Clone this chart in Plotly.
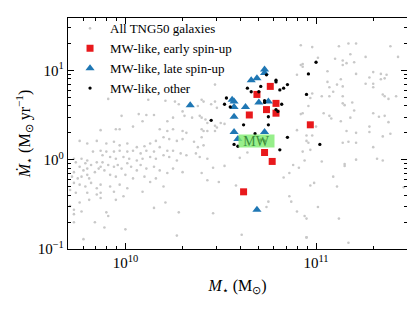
import numpy as np
import plotly.graph_objects as go

# ---------------- data (log10 stellar mass [Msun], log10 SFR [Msun/yr]) ----------------
gray_points = [
    (10.98, 1.26), (11.12, 1.27), (11.17, 1.30), (11.21, 1.30), (11.39, 1.27), (11.43, 1.15),
    (11.18, 1.18), (11.10, 1.13), (11.14, 1.11), (11.16, 1.08), (11.20, 1.09), (11.14, 1.06),
    (11.26, 1.15), (10.93, 1.07), (10.93, 1.04), (11.01, 1.14), (11.06, 0.99), (11.30, 0.98),
    (11.34, 0.96), (11.37, 0.95), (11.21, 0.96), (11.13, 0.90), (11.28, 0.92), (11.34, 0.90),
    (11.36, 0.91), (11.26, 0.85), (11.30, 0.85), (11.30, 0.81), (11.06, 0.87), (11.07, 0.81),
    (11.11, 0.84), (11.14, 0.82), (11.09, 0.76), (11.07, 0.71), (10.98, 0.74), (10.97, 0.69),
    (11.03, 0.71), (11.14, 0.71), (11.35, 0.73), (11.36, 0.71), (11.38, 0.68), (11.42, 0.71),
    (11.14, 0.63), (11.15, 0.61), (11.19, 0.64), (10.96, 0.60), (10.93, 0.52), (11.04, 0.52),
    (11.07, 0.49), (11.08, 0.46), (11.13, 0.43), (11.18, 0.47), (11.20, 0.55), (11.30, 0.52),
    (11.33, 0.48), (11.36, 0.49), (11.38, 0.42), (11.28, 0.37), (11.28, 0.31), (11.16, 0.32),
    (11.21, 0.30), (11.00, 0.37), (10.95, 0.27), (10.98, 0.27), (10.95, 0.21), (11.14, 0.19),
    (11.17, 0.20), (11.21, 0.19), (11.35, 0.26), (11.39, 0.29), (11.30, 0.14), (10.97, 0.11),
    (10.94, -0.01), (11.03, -0.02), (11.15, -0.05), (11.15, -0.07), (11.21, 0.00), (11.32, 0.01),
    (11.35, -0.01), (11.09, -0.19), (10.99, -0.26), (10.97, -0.29), (11.11, -0.30), (11.46, -0.31),
    (11.01, -0.53), (10.95, -0.66), (11.12, -0.66), (10.95, -0.87), (11.17, -0.93),
    (10.41, 0.65), (10.45, 0.62), (10.47, 0.65), (10.48, 0.58), (10.40, 0.47), (10.42, 0.45),
    (10.43, 0.41), (10.47, 0.38), (10.48, 0.36), (10.47, 0.32), (10.50, 0.41), (10.52, 0.40),
    (10.41, 0.32), (10.43, 0.32), (10.40, 0.25), (10.41, 0.16), (10.43, 0.01), (10.52, -0.07),
    (10.46, -0.09), (10.40, -0.15), (10.60, 0.02), (10.64, 0.08), (10.43, -0.23), (10.49, -0.25),
    (10.58, -0.29), (10.83, -0.20), (10.88, -0.06), (10.91, -0.09), (10.86, -0.15), (10.93, 0.09),
    (10.96, 0.19), (10.90, 0.33), (10.92, 0.51), (10.86, -0.41), (10.87, -0.47), (10.75, -0.47),
    (10.74, -0.53), (10.90, -0.58), (10.94, -0.63), (10.46, -0.60), (10.61, -0.84), (10.95, -0.87),
    (9.91, 0.68), (10.12, 0.67), (10.26, 0.65), (10.28, 0.62), (10.07, 0.51), (10.11, 0.50),
    (10.15, 0.50), (9.98, 0.49), (10.30, 0.54), (10.31, 0.49), (10.35, 0.47), (10.39, 0.49),
    (10.25, 0.47), (10.22, 0.43), (10.09, 0.43), (10.04, 0.37), (9.95, 0.34), (9.97, 0.34),
    (9.87, 0.33), (10.18, 0.34), (10.22, 0.32), (10.25, 0.34), (10.30, 0.32), (10.32, 0.30),
    (10.40, 0.34), (9.76, 0.21), (9.80, 0.18), (9.85, 0.21), (9.90, 0.18), (9.94, 0.20),
    (9.97, 0.16), (10.01, 0.18), (10.06, 0.14), (10.10, 0.15), (10.13, 0.18), (10.16, 0.21),
    (10.20, 0.25), (10.23, 0.23), (10.27, 0.21), (10.30, 0.23), (10.36, 0.20), (10.38, 0.14),
    (10.18, 0.14), (10.22, 0.10), (10.25, 0.10), (10.29, 0.07), (10.15, 0.09), (10.11, 0.10),
    (10.08, 0.07), (10.04, 0.10), (10.01, 0.09), (9.97, 0.10), (9.94, 0.09), (9.90, 0.09),
    (9.87, 0.10), (9.83, 0.09), (9.88, 0.05), (9.92, 0.03), (9.95, 0.01), (9.99, 0.03),
    (10.02, 0.01), (10.06, -0.01), (10.09, 0.01), (10.13, 0.03), (10.16, 0.01), (10.20, 0.05),
    (10.23, 0.03), (10.27, -0.01), (10.32, 0.05), (10.37, 0.07), (10.39, 0.03),
    (9.73, 0.01), (9.74, -0.03), (9.77, 0.01), (9.79, -0.04), (9.80, -0.01), (9.82, -0.06),
    (9.76, -0.08), (9.78, -0.12), (9.80, -0.10), (9.73, -0.14), (9.72, -0.19), (9.75, -0.21),
    (9.77, -0.19), (9.80, -0.17), (9.81, -0.21), (9.84, -0.14), (9.86, -0.10), (9.87, -0.08),
    (9.89, -0.12), (9.91, -0.06), (9.85, -0.03), (9.88, -0.03), (9.94, -0.08), (9.96, -0.06),
    (9.98, -0.10), (10.01, -0.04), (10.03, -0.08), (10.06, -0.12), (10.08, -0.06), (10.11, -0.10),
    (10.15, -0.08), (10.18, -0.12), (10.22, -0.15), (10.25, -0.10), (10.30, -0.14), (9.92, -0.17),
    (9.95, -0.19), (10.00, -0.17), (10.04, -0.21), (10.10, -0.19), (10.16, -0.21), (9.73, -0.26),
    (9.76, -0.28), (9.79, -0.30), (9.82, -0.26), (9.85, -0.32), (9.87, -0.28), (9.92, -0.30),
    (9.97, -0.28), (10.01, -0.32), (10.13, -0.25), (9.71, -0.34), (9.74, -0.37), (9.80, -0.37),
    (9.85, -0.39), (9.87, -0.37), (9.94, -0.36), (10.09, -0.36), (10.20, -0.30), (9.81, -0.45),
    (9.87, -0.43), (9.95, -0.45), (9.99, -0.41), (9.76, -0.48), (9.73, -0.56), (9.77, -0.58),
    (9.90, -0.59), (9.91, -0.63), (10.15, -0.54), (10.21, -0.48), (10.28, -0.59), (9.73, -0.70),
    (9.84, -0.70), (9.89, -0.76), (10.00, -0.78), (9.78, -0.89), (10.27, -0.85), (9.73, -0.61),
    (9.71, -0.52), (10.32, 0.78), (10.38, 0.60), (10.40, 0.67), (10.47, 0.84), (10.92, 1.28),
    (10.92, 1.06), (10.90, 0.95), (10.21, 0.66),
]
gray_logm = [p[0] for p in gray_points]
gray_logsfr = [p[1] for p in gray_points]

early_logm = [10.76, 10.69, 10.79, 10.74, 10.79, 10.65, 10.97, 10.73, 10.77, 10.62]
early_logsfr = [0.82, 0.73, 0.63, 0.56, 0.52, 0.50, 0.39, 0.08, -0.02, -0.36]

late_logm = [10.73, 10.73, 10.66, 10.69, 10.56, 10.57, 10.57, 10.63, 10.70, 10.75,
             10.57, 10.57, 10.73, 10.59, 10.69, 10.34]
late_logsfr = [1.01, 0.97, 0.89, 0.91, 0.67, 0.65, 0.59, 0.59, 0.64, 0.65,
               0.48, 0.31, 0.31, 0.23, -0.56, 0.61]

other_logm = [11.00, 10.96, 10.74, 10.79, 10.79, 10.85, 10.83, 10.81, 10.64, 10.66,
              10.70, 10.71, 10.95, 10.53, 10.52, 10.55, 10.73, 10.73, 10.82, 10.79,
              10.80, 10.45, 10.62, 10.75, 10.75, 10.68, 10.85, 11.02, 10.57, 10.59,
              10.81, 10.71, 10.73]
other_logsfr = [1.09, 0.96, 0.95, 0.89, 0.87, 0.84, 0.80, 0.78, 0.80, 0.76,
                0.76, 0.82, 0.73, 0.69, 0.62, 0.59, 0.66, 0.64, 0.62, 0.56,
                0.54, 0.44, 0.39, 0.48, 0.39, 0.29, 0.25, 0.17, 0.17, 0.15,
                0.11, 0.22, 0.21]

mw_mstar = 4.9e10
mw_sfr = 1.62

x_range = [5e9, 3e11]
y_range = [0.1, 38.5]

x_tickvals = [1e10, 1e11]
x_ticktext = ["10<sup>10</sup>", "10<sup>11</sup>"]
y_tickvals = [0.1, 1, 10]
y_ticktext = ["10<sup>−1</sup>", "10<sup>0</sup>", "10<sup>1</sup>"]

labels = ["All TNG50 galaxies", "MW-like, early spin-up", "MW-like, late spin-up", "MW-like, other"]

# ---------------- figure ----------------
SERIF = "Liberation Serif, Times New Roman, serif"

fig = go.Figure()
fig.add_trace(go.Scatter(
    x=10 ** np.array(gray_logm), y=10 ** np.array(gray_logsfr), mode="markers",
    name=labels[0], marker=dict(size=2.6, color="#c8c8c8", line=dict(width=0)),
))
fig.add_trace(go.Scatter(
    x=10 ** np.array(early_logm), y=10 ** np.array(early_logsfr), mode="markers",
    name=labels[1], marker=dict(symbol="square", size=7, color="#e8191c", line=dict(width=0)),
))
fig.add_trace(go.Scatter(
    x=10 ** np.array(late_logm), y=10 ** np.array(late_logsfr), mode="markers",
    name=labels[2], marker=dict(symbol="triangle-up", size=8, color="#1f77b4", line=dict(width=0)),
))
fig.add_trace(go.Scatter(
    x=10 ** np.array(other_logm), y=10 ** np.array(other_logsfr), mode="markers",
    name=labels[3], marker=dict(size=3.3, color="black", line=dict(width=0)),
))

fig.add_annotation(
    x=np.log10(mw_mstar), y=np.log10(mw_sfr), xref="x", yref="y",
    text="MW", showarrow=False, width=35, height=12,
    font=dict(family=SERIF, size=14, color="#3c8c3c"),
    bgcolor="rgba(125,235,110,0.8)", borderpad=0,
)

axis_common = dict(
    type="log", showgrid=False, zeroline=False,
    showline=True, linecolor="black", linewidth=1.3, mirror="allticks",
    ticks="inside", ticklen=6, tickwidth=1, tickcolor="black",
    tickmode="array",
    tickfont=dict(family=SERIF, size=15, color="black"),
    minor=dict(ticks="inside", ticklen=3, tickwidth=0.8, tickcolor="black", dtick="D1", showgrid=False),
)

fig.update_xaxes(
    **axis_common,
    tickvals=x_tickvals, ticktext=x_ticktext,
    range=[np.log10(x_range[0]), np.log10(x_range[1])],
    title=dict(text="<i>M</i><sub>⋆</sub> (M<sub>⊙</sub>)", font=dict(family=SERIF, size=16, color="black"), standoff=9),
)
fig.update_yaxes(
    **axis_common,
    tickvals=y_tickvals, ticktext=y_ticktext,
    range=[np.log10(y_range[0]), np.log10(y_range[1])],
    title=dict(text="<i>Ṁ</i><sub>⋆</sub> (M<sub>⊙</sub> yr<sup>−1</sup>)", font=dict(family=SERIF, size=16, color="black"), standoff=3),
)

# page body adds an 8 px margin, so the figure is 8 px smaller and its margins compensate
fig.update_layout(
    width=407, height=301,
    margin=dict(l=60, r=8, t=5, b=60),
    paper_bgcolor="white", plot_bgcolor="white",
    showlegend=True,
    legend=dict(
        x=0.006, y=1.02, xanchor="left", yanchor="top",
        bgcolor="rgba(0,0,0,0)", borderwidth=0,
        font=dict(family=SERIF, size=13, color="black"),
        itemsizing="trace",
    ),
)

fig.write_html("out.html")
